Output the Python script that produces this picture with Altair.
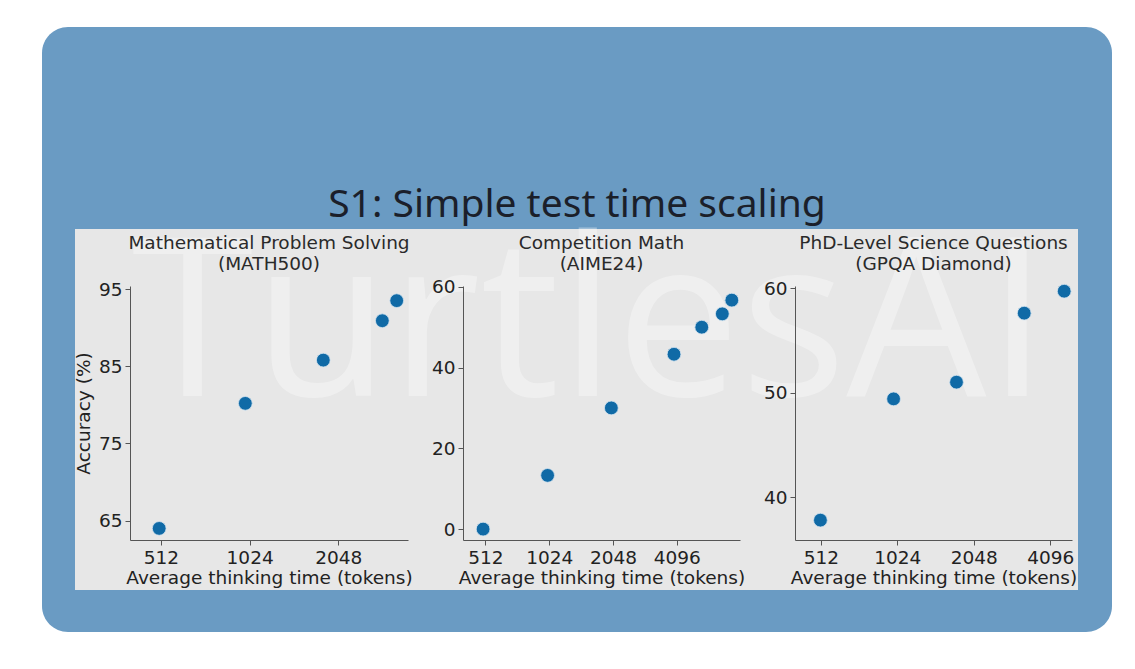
import altair as alt
import pandas as pd

# ---- data ----
math_tokens = [505, 990, 1821, 2888, 3232]
math_acc = [64.0, 80.2, 85.8, 90.9, 93.5]
aime_tokens = [499, 1006, 2012, 3977, 5378, 6725, 7455]
aime_acc = [0.0, 13.3, 30.0, 43.3, 50.0, 53.3, 56.7]
gpqa_tokens = [510, 990, 1751, 3236, 4650]
gpqa_acc = [37.8, 49.4, 51.0, 57.6, 59.7]

x_ticks_3 = [512, 1024, 2048]
x_ticks_4 = [512, 1024, 2048, 4096]
math_yticks = [65, 75, 85, 95]
aime_yticks = [0, 20, 40, 60]
gpqa_yticks = [40, 50, 60]

main_title = "S1: Simple test time scaling"
watermark_text = "TurtlesAI"
panel_titles = [
    ["Mathematical Problem Solving", "(MATH500)"],
    ["Competition Math", "(AIME24)"],
    ["PhD-Level Science Questions", "(GPQA Diamond)"],
]
x_title = "Average thinking time (tokens)"
y_title = "Accuracy (%)"

# ---- layout (page pixels) ----
OX, OY = 130, 286          # page position of first plot's origin
PAGE_W, PAGE_H = 1135, 669
PLOT_H = 254
FS = 18.5

one = pd.DataFrame({"k": [0]})


def deco_rect(x0, y0, x1, y1, color, radius=0):
    return alt.Chart(one).mark_rect(color=color, cornerRadius=radius).encode(
        x=alt.value(x0 - OX), x2=alt.value(x1 - OX),
        y=alt.value(y0 - OY), y2=alt.value(y1 - OY),
    )


def deco_text(text, px, py, size, color, font, weight="normal", opacity=1.0):
    return alt.Chart(one).mark_text(
        text=text, font=font, fontSize=size, fontWeight=weight, color=color,
        opacity=opacity, align="center", baseline="alphabetic",
    ).encode(x=alt.value(px - OX), y=alt.value(py - OY))


def panel_title(lines, width):
    out = []
    for i, line in enumerate(lines):
        out.append(alt.Chart(one).mark_text(
            text=line, font="DejaVu Sans", fontSize=FS, color="#2a2a2a",
            align="center", baseline="alphabetic",
        ).encode(x=alt.value(width / 2), y=alt.value(-37 + 21 * i)))
    return out


def scatter(tokens, acc, xdom, ydom, xticks, yticks, ytitle):
    df = pd.DataFrame({"tokens": tokens, "acc": acc})
    return alt.Chart(df).mark_circle(
        size=190, color="#106aa6", opacity=1, stroke="#d5e4f0", strokeWidth=0.8
    ).encode(
        x=alt.X("tokens:Q",
                scale=alt.Scale(type="log", base=2, domain=xdom, nice=False),
                axis=alt.Axis(values=xticks, format="d", title=x_title, zindex=2)),
        y=alt.Y("acc:Q",
                scale=alt.Scale(domain=ydom, zero=False, nice=False),
                axis=alt.Axis(values=yticks, format="d", title=ytitle, zindex=2)),
    )


background = [
    deco_rect(0, 0, PAGE_W, PAGE_H, "#ffffff"),
    deco_rect(42, 27, 1112, 632, "#6a9bc3", radius=26),
    deco_rect(75, 229, 1078, 590, "#e7e7e7"),
    deco_text(watermark_text, 590, 396, 222, "#ffffff", "Open Sans", opacity=0.35),
    deco_text(main_title, 577, 217, 39, "#1b1f2a", "Noto Sans"),
]

W1, W2, W3 = 278, 277, 277

p1 = alt.layer(
    *background,
    *panel_title(panel_titles[0], W1),
    scatter(math_tokens, math_acc, [402, 3530], [62.5, 95.4], x_ticks_3, math_yticks, y_title),
).properties(width=W1, height=PLOT_H)

p2 = alt.layer(
    *panel_title(panel_titles[1], W2),
    scatter(aime_tokens, aime_acc, [401, 8150], [-2.7, 60.2], x_ticks_4, aime_yticks, None),
).properties(width=W2, height=PLOT_H)

p3 = alt.layer(
    *panel_title(panel_titles[2], W3),
    scatter(gpqa_tokens, gpqa_acc, [405, 4990], [35.9, 60.2], x_ticks_4, gpqa_yticks, None),
).properties(width=W3, height=PLOT_H)

chart = alt.hconcat(p1, p2, p3, spacing=55, bounds="flush").properties(
    padding=0
).configure(
    background="white"
).configure_view(
    strokeWidth=0
).configure_axis(
    grid=False,
    labelFont="DejaVu Sans", labelFontSize=FS, labelColor="#222222",
    titleFont="DejaVu Sans", titleFontSize=FS, titleFontWeight="normal", titleColor="#222222",
    domainColor="#555555", tickColor="#555555", tickSize=5, labelPadding=3,
).configure_axisBottom(
    titlePadding=2,
).configure_axisLeft(
    titlePadding=5,
)

chart.save("out.html", embed_options={"renderer": "svg", "actions": False})
